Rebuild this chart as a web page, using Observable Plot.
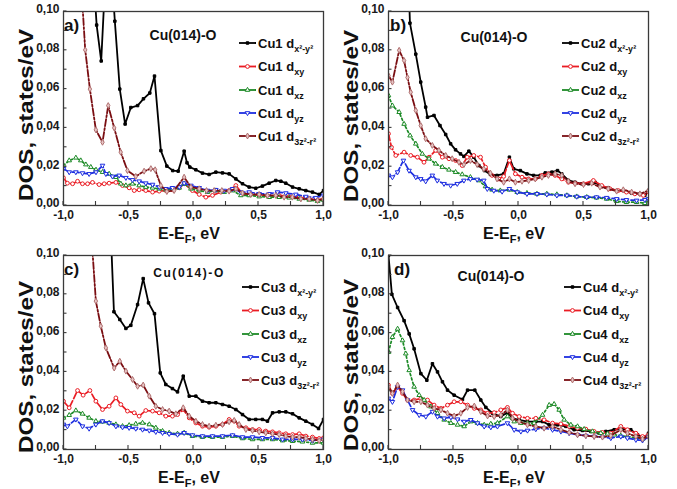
<!DOCTYPE html>
<html><head><meta charset="utf-8">
<script src="https://cdn.jsdelivr.net/npm/d3@7"></script>
<script src="https://cdn.jsdelivr.net/npm/@observablehq/plot@0.6"></script>
<style>
body{margin:0;background:#fff;}
#chart{position:relative;width:677px;height:489px;background:#fff;overflow:hidden;}
#chart svg{position:absolute;overflow:visible;}
</style></head><body><div id="chart"></div>
<script>
// ---------- DATA (energy E-EF in eV, DOS in states/eV) ----------
const xTicks = [-1, -0.5, 0, 0.5, 1];
const xMinor = [-1, -0.75, -0.5, -0.25, 0, 0.25, 0.5, 0.75, 1];
const yTicks = [0, 0.02, 0.04, 0.06, 0.08, 0.10];
const yMinor = [0, 0.01, 0.02, 0.03, 0.04, 0.05, 0.06, 0.07, 0.08, 0.09, 0.10];
const orbitalLabels = ["x²-y²", "xy", "xz", "yz", "3z²-r²"];
const panelLetters = ["a)", "b)", "c)", "d)"];
const atoms = ["Cu1", "Cu2", "Cu3", "Cu4"];
const surfaceLabel = "Cu(014)-O";

// Panel a: Cu1
const cu1_x2y2 = [[-0.78,0.13],[-0.745,0.093],[-0.71,0.0745],[-0.68,0.115],[-0.625,0.115],[-0.605,0.095],[-0.567,0.060],[-0.526,0.042],[-0.482,0.0505],[-0.43,0.0515],[-0.385,0.055],[-0.336,0.058],[-0.30,0.0667],[-0.251,0.0283],[-0.205,0.0203],[-0.16,0.018],[-0.118,0.0177],[-0.072,0.028],[-0.05,0.022],[-0.028,0.0198],[0.018,0.0184],[0.069,0.0167],[0.12,0.016],[0.172,0.0172],[0.223,0.0168],[0.274,0.0163],[0.326,0.0137],[0.377,0.0112],[0.428,0.0095],[0.479,0.0089],[0.53,0.010],[0.582,0.0115],[0.633,0.0129],[0.672,0.0125],[0.71,0.0115],[0.762,0.0095],[0.813,0.0086],[0.864,0.0077],[0.915,0.0069],[0.967,0.0057],[1.0,0.0077]];
const cu1_xy = [[-1,0.0143],[-0.97,0.0115],[-0.93,0.0112],[-0.892,0.0125],[-0.854,0.0112],[-0.815,0.0112],[-0.777,0.0119],[-0.726,0.0108],[-0.687,0.0112],[-0.649,0.0115],[-0.597,0.0119],[-0.546,0.0103],[-0.495,0.0091],[-0.456,0.0077],[-0.418,0.0081],[-0.367,0.0077],[-0.315,0.0069],[-0.264,0.0074],[-0.213,0.0077],[-0.162,0.0081],[-0.11,0.0091],[-0.072,0.0112],[-0.008,0.0077],[0.044,0.0057],[0.095,0.0043],[0.146,0.0052],[0.21,0.0069],[0.274,0.0077],[0.326,0.0103],[0.377,0.006],[0.44,0.0057],[0.505,0.0052],[0.582,0.0046],[0.659,0.0052],[0.736,0.0046],[0.813,0.0043],[0.89,0.0034],[0.954,0.0029],[1,0.0034]];
const cu1_xz = [[-1,0.0206],[-0.956,0.0232],[-0.905,0.0246],[-0.867,0.0232],[-0.828,0.0211],[-0.79,0.0198],[-0.75,0.0184],[-0.70,0.0172],[-0.649,0.0163],[-0.597,0.0146],[-0.559,0.0112],[-0.52,0.0103],[-0.469,0.0112],[-0.418,0.0103],[-0.367,0.0095],[-0.315,0.0091],[-0.264,0.0086],[-0.213,0.0081],[-0.162,0.0086],[-0.11,0.0091],[-0.072,0.0112],[-0.02,0.0086],[0.044,0.0077],[0.108,0.0069],[0.172,0.0077],[0.236,0.0069],[0.3,0.0077],[0.364,0.0052],[0.428,0.0052],[0.505,0.0046],[0.582,0.0043],[0.659,0.0043],[0.736,0.004],[0.813,0.0034],[0.89,0.0029],[0.954,0.0022],[1,0.0029]];
const cu1_yz = [[-1,0.0189],[-0.956,0.0172],[-0.905,0.0172],[-0.854,0.0167],[-0.803,0.0163],[-0.75,0.0172],[-0.70,0.0206],[-0.674,0.0163],[-0.623,0.015],[-0.572,0.0155],[-0.52,0.0143],[-0.469,0.0132],[-0.418,0.0125],[-0.367,0.0115],[-0.315,0.0108],[-0.264,0.0095],[-0.213,0.0086],[-0.162,0.0091],[-0.11,0.0095],[-0.072,0.0115],[-0.02,0.0103],[0.044,0.0091],[0.108,0.0077],[0.172,0.0081],[0.236,0.0077],[0.30,0.0086],[0.364,0.0069],[0.428,0.0069],[0.505,0.006],[0.582,0.006],[0.646,0.0069],[0.71,0.0064],[0.787,0.0057],[0.864,0.0046],[0.94,0.004],[1,0.0052]];
const cu1_3z2r2 = [[-0.86,0.11],[-0.833,0.0802],[-0.797,0.060],[-0.751,0.039],[-0.70,0.0326],[-0.656,0.0515],[-0.61,0.040],[-0.56,0.0275],[-0.508,0.018],[-0.444,0.015],[-0.38,0.0177],[-0.328,0.019],[-0.295,0.0184],[-0.251,0.0103],[-0.205,0.0072],[-0.149,0.0077],[-0.072,0.0146],[-0.02,0.0095],[0.044,0.0086],[0.10,0.0077],[0.159,0.0077],[0.218,0.0077],[0.274,0.0074],[0.326,0.0086],[0.377,0.0064],[0.44,0.0057],[0.505,0.0057],[0.569,0.0052],[0.633,0.0052],[0.697,0.0043],[0.76,0.0043],[0.826,0.0034],[0.89,0.0034],[0.954,0.0026],[1,0.0034]];

// Panel b: Cu2
const cu2_x2y2 = [[-0.848,0.12],[-0.835,0.094],[-0.79,0.078],[-0.752,0.0636],[-0.714,0.0507],[-0.70,0.0455],[-0.65,0.0464],[-0.604,0.0412],[-0.56,0.0366],[-0.522,0.0318],[-0.484,0.0287],[-0.446,0.0266],[-0.42,0.0253],[-0.382,0.028],[-0.344,0.0249],[-0.305,0.0206],[-0.262,0.018],[-0.216,0.016],[-0.165,0.0155],[-0.114,0.0163],[-0.07,0.0249],[-0.037,0.0189],[0.014,0.018],[0.065,0.0163],[0.116,0.0155],[0.167,0.0155],[0.206,0.0168],[0.257,0.0172],[0.30,0.018],[0.333,0.0163],[0.384,0.0129],[0.435,0.012],[0.487,0.0112],[0.538,0.0112],[0.589,0.012],[0.64,0.0098],[0.69,0.0091],[0.755,0.0077],[0.806,0.0077],[0.87,0.0064],[0.934,0.006],[0.972,0.0052],[1,0.0077]];
const cu2_xy = [[-1,0.037],[-0.977,0.030],[-0.944,0.0258],[-0.88,0.0275],[-0.829,0.0258],[-0.778,0.0249],[-0.727,0.0223],[-0.688,0.0249],[-0.637,0.0284],[-0.586,0.0249],[-0.535,0.0241],[-0.484,0.0232],[-0.433,0.0206],[-0.395,0.0249],[-0.344,0.0258],[-0.292,0.0249],[-0.254,0.0198],[-0.203,0.0155],[-0.152,0.0137],[-0.114,0.015],[-0.07,0.0232],[-0.024,0.0163],[0.027,0.0146],[0.078,0.0137],[0.129,0.0137],[0.18,0.0155],[0.23,0.0163],[0.282,0.0155],[0.333,0.0137],[0.384,0.012],[0.435,0.0115],[0.5,0.0112],[0.576,0.0129],[0.64,0.0103],[0.704,0.0086],[0.768,0.0077],[0.83,0.0069],[0.895,0.006],[0.96,0.0052],[1,0.0069]];
const cu2_xz = [[-1,0.0567],[-0.97,0.0515],[-0.918,0.0481],[-0.88,0.042],[-0.834,0.036],[-0.79,0.0318],[-0.74,0.0266],[-0.688,0.0241],[-0.637,0.0215],[-0.586,0.0198],[-0.535,0.0184],[-0.484,0.0172],[-0.433,0.016],[-0.37,0.0146],[-0.305,0.0129],[-0.254,0.0098],[-0.203,0.0081],[-0.14,0.0077],[-0.07,0.0081],[-0.01,0.0069],[0.065,0.0064],[0.142,0.006],[0.218,0.006],[0.295,0.0057],[0.372,0.0052],[0.448,0.0046],[0.525,0.0043],[0.60,0.004],[0.678,0.0034],[0.755,0.0022],[0.83,0.0017],[0.908,0.0017],[0.972,0.0012],[1,0.0026]];
const cu2_yz = [[-1,0.0155],[-0.97,0.0146],[-0.93,0.0172],[-0.885,0.0232],[-0.842,0.018],[-0.79,0.0146],[-0.752,0.0137],[-0.714,0.0125],[-0.663,0.0155],[-0.625,0.0129],[-0.573,0.0112],[-0.522,0.0103],[-0.471,0.0112],[-0.42,0.0129],[-0.37,0.0137],[-0.318,0.0134],[-0.267,0.0129],[-0.24,0.0086],[-0.19,0.0077],[-0.126,0.0072],[-0.07,0.0086],[-0.01,0.0069],[0.065,0.006],[0.142,0.006],[0.218,0.0057],[0.295,0.0052],[0.372,0.0052],[0.448,0.0046],[0.525,0.0043],[0.60,0.0043],[0.678,0.004],[0.755,0.0034],[0.83,0.0029],[0.908,0.0026],[0.972,0.0029],[1,0.0034]];
const cu2_3z2r2 = [[-1,0.067],[-0.97,0.0636],[-0.918,0.080],[-0.88,0.0747],[-0.854,0.066],[-0.829,0.0584],[-0.79,0.049],[-0.752,0.0412],[-0.714,0.0344],[-0.663,0.031],[-0.612,0.0284],[-0.56,0.0258],[-0.51,0.0241],[-0.458,0.0223],[-0.42,0.0211],[-0.37,0.0232],[-0.318,0.0211],[-0.267,0.0189],[-0.216,0.0167],[-0.165,0.0137],[-0.114,0.012],[-0.07,0.0137],[-0.024,0.012],[0.027,0.0125],[0.078,0.0129],[0.129,0.0137],[0.18,0.0146],[0.23,0.0155],[0.282,0.0163],[0.333,0.0155],[0.384,0.0125],[0.435,0.0112],[0.5,0.0108],[0.563,0.0115],[0.627,0.0095],[0.69,0.0086],[0.755,0.0074],[0.806,0.0081],[0.87,0.0069],[0.934,0.006],[1,0.0077]];

// Panel c: Cu3
const cu3_x2y2 = [[-0.65,0.135],[-0.612,0.071],[-0.567,0.067],[-0.52,0.0624],[-0.482,0.064],[-0.43,0.0747],[-0.387,0.0881],[-0.346,0.0756],[-0.30,0.070],[-0.256,0.0395],[-0.213,0.0335],[-0.162,0.0314],[-0.123,0.0297],[-0.079,0.0378],[-0.033,0.0275],[0.018,0.0275],[0.069,0.0249],[0.12,0.0241],[0.172,0.0241],[0.223,0.0232],[0.274,0.0223],[0.326,0.0206],[0.377,0.018],[0.428,0.0155],[0.479,0.0155],[0.53,0.0155],[0.569,0.0146],[0.608,0.0189],[0.659,0.0194],[0.71,0.0194],[0.762,0.0184],[0.813,0.0163],[0.864,0.0146],[0.915,0.0129],[0.962,0.0108],[1,0.0155]];
const cu3_xy = [[-1,0.0249],[-0.956,0.0215],[-0.892,0.0304],[-0.849,0.028],[-0.797,0.0304],[-0.751,0.0249],[-0.70,0.0206],[-0.649,0.0223],[-0.597,0.0266],[-0.559,0.0232],[-0.508,0.0198],[-0.456,0.0189],[-0.418,0.0172],[-0.367,0.0201],[-0.315,0.0198],[-0.264,0.0189],[-0.213,0.0172],[-0.162,0.0172],[-0.123,0.018],[-0.079,0.0206],[-0.033,0.0163],[0.018,0.0137],[0.069,0.012],[0.12,0.0115],[0.172,0.012],[0.223,0.0129],[0.274,0.0155],[0.313,0.0146],[0.351,0.012],[0.403,0.0112],[0.454,0.0103],[0.505,0.0103],[0.556,0.0095],[0.608,0.0091],[0.659,0.0086],[0.71,0.0081],[0.762,0.0077],[0.813,0.0081],[0.864,0.0069],[0.915,0.0064],[0.967,0.0057],[1,0.006]];
const cu3_xz = [[-1,0.0163],[-0.956,0.0177],[-0.905,0.0201],[-0.854,0.0184],[-0.803,0.0163],[-0.751,0.0146],[-0.70,0.0143],[-0.649,0.0137],[-0.597,0.0129],[-0.546,0.012],[-0.495,0.0125],[-0.444,0.0132],[-0.392,0.0137],[-0.34,0.0129],[-0.29,0.0112],[-0.238,0.0095],[-0.187,0.0086],[-0.123,0.0081],[-0.072,0.0086],[-0.008,0.0069],[0.069,0.0064],[0.146,0.0064],[0.223,0.0064],[0.30,0.0069],[0.377,0.0057],[0.454,0.0052],[0.53,0.0052],[0.608,0.0052],[0.685,0.0046],[0.762,0.0043],[0.838,0.004],[0.915,0.0034],[1,0.0034]];
const cu3_yz = [[-1,0.0129],[-0.97,0.012],[-0.905,0.0155],[-0.854,0.012],[-0.803,0.0108],[-0.751,0.0129],[-0.70,0.0146],[-0.649,0.0137],[-0.597,0.012],[-0.546,0.0115],[-0.495,0.0112],[-0.444,0.0108],[-0.392,0.0103],[-0.34,0.0098],[-0.29,0.0091],[-0.238,0.0086],[-0.187,0.0081],[-0.123,0.0077],[-0.072,0.0086],[-0.008,0.0074],[0.069,0.0069],[0.146,0.0069],[0.223,0.0069],[0.30,0.0074],[0.377,0.0064],[0.454,0.0064],[0.53,0.006],[0.608,0.006],[0.685,0.0052],[0.762,0.0052],[0.838,0.0052],[0.915,0.0046],[1,0.0052]];
const cu3_3z2r2 = [[-0.785,0.11],[-0.751,0.0765],[-0.713,0.0636],[-0.674,0.0524],[-0.61,0.042],[-0.567,0.0455],[-0.52,0.0404],[-0.469,0.0361],[-0.43,0.0326],[-0.387,0.0332],[-0.34,0.0275],[-0.29,0.0223],[-0.238,0.0206],[-0.187,0.0198],[-0.136,0.0184],[-0.079,0.0215],[-0.033,0.0172],[0.018,0.0146],[0.069,0.0129],[0.12,0.012],[0.172,0.0125],[0.223,0.0129],[0.274,0.0143],[0.313,0.015],[0.351,0.0129],[0.403,0.0103],[0.454,0.0098],[0.505,0.0091],[0.556,0.0086],[0.608,0.0081],[0.659,0.0077],[0.71,0.0069],[0.762,0.0064],[0.813,0.0064],[0.864,0.0057],[0.915,0.0052],[0.967,0.0046],[1,0.0052]];

// Panel d: Cu4
const cu4_x2y2 = [[-1,0.10],[-0.974,0.080],[-0.93,0.0732],[-0.88,0.0664],[-0.841,0.0596],[-0.803,0.0519],[-0.751,0.0391],[-0.705,0.0357],[-0.662,0.0442],[-0.623,0.040],[-0.585,0.0349],[-0.546,0.0306],[-0.495,0.028],[-0.431,0.0258],[-0.392,0.0306],[-0.336,0.0306],[-0.29,0.0255],[-0.251,0.0217],[-0.20,0.0187],[-0.136,0.017],[-0.085,0.019],[-0.046,0.0161],[0.005,0.0153],[0.069,0.0144],[0.133,0.0144],[0.185,0.0144],[0.236,0.0127],[0.30,0.0127],[0.364,0.0119],[0.428,0.0102],[0.492,0.0098],[0.556,0.0093],[0.62,0.0084],[0.672,0.0093],[0.736,0.0102],[0.80,0.0105],[0.864,0.0102],[0.915,0.0076],[0.967,0.0059],[1,0.0084]];
const cu4_xy = [[-1,0.0332],[-0.97,0.0289],[-0.93,0.0323],[-0.892,0.0289],[-0.854,0.0255],[-0.803,0.0255],[-0.751,0.0263],[-0.70,0.0255],[-0.649,0.0229],[-0.597,0.0212],[-0.546,0.0229],[-0.495,0.0246],[-0.444,0.0246],[-0.392,0.0229],[-0.34,0.0212],[-0.29,0.0204],[-0.238,0.0187],[-0.187,0.019],[-0.136,0.0204],[-0.085,0.0217],[-0.046,0.0187],[0.005,0.017],[0.069,0.0161],[0.133,0.0161],[0.197,0.0153],[0.262,0.0136],[0.326,0.0132],[0.39,0.0119],[0.454,0.011],[0.518,0.0105],[0.582,0.0093],[0.646,0.0088],[0.71,0.0084],[0.787,0.0119],[0.838,0.0102],[0.903,0.0084],[0.954,0.0067],[1,0.0076]];
const cu4_xz = [[-1,0.0502],[-0.97,0.0579],[-0.93,0.0622],[-0.892,0.0562],[-0.867,0.0494],[-0.841,0.0408],[-0.803,0.0323],[-0.764,0.028],[-0.726,0.0255],[-0.674,0.0221],[-0.623,0.0187],[-0.572,0.0153],[-0.52,0.0136],[-0.469,0.0127],[-0.418,0.0119],[-0.367,0.0144],[-0.315,0.0136],[-0.264,0.0127],[-0.213,0.0132],[-0.162,0.0136],[-0.085,0.017],[-0.033,0.0144],[0.018,0.0136],[0.069,0.0136],[0.12,0.0136],[0.185,0.0178],[0.236,0.0229],[0.274,0.0234],[0.313,0.0204],[0.351,0.0153],[0.403,0.0127],[0.454,0.0119],[0.505,0.0105],[0.569,0.0093],[0.633,0.0084],[0.685,0.0081],[0.736,0.0076],[0.787,0.0071],[0.838,0.0067],[0.903,0.0059],[0.954,0.0054],[1,0.0067]];
const cu4_yz = [[-1,0.0263],[-0.97,0.0246],[-0.93,0.0323],[-0.892,0.0306],[-0.854,0.0255],[-0.815,0.0204],[-0.764,0.0178],[-0.713,0.017],[-0.662,0.0195],[-0.623,0.017],[-0.572,0.0161],[-0.52,0.0166],[-0.469,0.0156],[-0.418,0.0144],[-0.367,0.0153],[-0.315,0.0136],[-0.264,0.0119],[-0.213,0.0115],[-0.162,0.0119],[-0.085,0.0136],[-0.033,0.0102],[0.018,0.0093],[0.069,0.0098],[0.133,0.0105],[0.197,0.011],[0.262,0.0102],[0.326,0.0093],[0.39,0.0084],[0.454,0.0076],[0.518,0.0071],[0.582,0.0067],[0.646,0.0064],[0.71,0.0059],[0.787,0.0067],[0.838,0.0059],[0.903,0.005],[0.954,0.0047],[1,0.0064]];
const cu4_3z2r2 = [[-1,0.0323],[-0.97,0.0289],[-0.93,0.0332],[-0.892,0.0298],[-0.854,0.0255],[-0.803,0.0246],[-0.751,0.0246],[-0.70,0.0229],[-0.649,0.0212],[-0.597,0.0204],[-0.546,0.0187],[-0.495,0.0173],[-0.444,0.0187],[-0.392,0.0217],[-0.34,0.0224],[-0.29,0.0195],[-0.238,0.0173],[-0.187,0.017],[-0.136,0.0178],[-0.085,0.0204],[-0.046,0.0161],[0.005,0.0144],[0.069,0.0127],[0.133,0.0119],[0.197,0.011],[0.262,0.0119],[0.326,0.0102],[0.39,0.0088],[0.454,0.0076],[0.518,0.0071],[0.582,0.0067],[0.646,0.0064],[0.71,0.0071],[0.787,0.0102],[0.838,0.0084],[0.903,0.0067],[0.954,0.0054],[1,0.0067]];

// ---------- STYLE / LAYOUT ----------
const FONT = "'Liberation Sans', Arial, Helvetica, sans-serif";
const sqrt3 = Math.sqrt(3);
const triangleDown = {
  draw(ctx, size) {
    const y = -Math.sqrt(size / (sqrt3 * 3));
    ctx.moveTo(0, -y * 2);
    ctx.lineTo(-sqrt3 * y, y);
    ctx.lineTo(sqrt3 * y, y);
    ctx.closePath();
  }
};
const styles = [
  {color: "#000000", dash: null,      symbol: d3.symbolSquare,   fill: "#000000", mstroke: "#000000", r: 1.4, lw: 1.8},
  {color: "#ea1c24", dash: "7,2.5",   symbol: d3.symbolCircle,   fill: "#ffffff", mstroke: "#ea1c24", r: 1.9, lw: 1.7},
  {color: "#1c8a26", dash: "2,2.5",   symbol: d3.symbolTriangle, fill: "#ffffff", mstroke: "#1c8a26", r: 1.7, lw: 1.7},
  {color: "#1e2ee0", dash: "7,2.5",   symbol: triangleDown,      fill: "#ffffff", mstroke: "#1e2ee0", r: 1.7, lw: 1.7},
  {color: "#7a0e12", dash: "7,2,2,2", symbol: d3.symbolDiamond,  fill: "#e6c4c4", mstroke: "#b07070", r: 1.8, lw: 1.8}
];
const panels = [
  {series: [cu1_x2y2, cu1_xy, cu1_xz, cu1_yz, cu1_3z2r2], left: 0,   top: 0,   titleX: 120, titleY: 29, titleSize: 14, titleSpacing: 0, letX: 1, legX: 176, yTitleC: 104},
  {series: [cu2_x2y2, cu2_xy, cu2_xz, cu2_yz, cu2_3z2r2], left: 325, top: 0,   titleX: 106, titleY: 31, titleSize: 14, titleSpacing: 0, letX: 2, legX: 174, yTitleC: 105},
  {series: [cu3_x2y2, cu3_xy, cu3_xz, cu3_yz, cu3_3z2r2], left: 0,   top: 244, titleX: 126, titleY: 22, titleSize: 12, titleSpacing: 1.6, letX: 1, legX: 179, yTitleC: 112},
  {series: [cu4_x2y2, cu4_xy, cu4_xz, cu4_yz, cu4_3z2r2], left: 325, top: 244, titleX: 103, titleY: 26, titleSize: 14, titleSpacing: 0, letX: 6, legX: 176, yTitleC: 110}
];
const M = {left: 63, right: 17, top: 11, bottom: 39};
const W = 340, H = 244;
const legendRows = [32, 55.5, 79, 102, 125];
const fmtY = d => d.toFixed(2).replace(".", ",");
const fmtX = d => d.toFixed(1).replace(".", ",");

const chart = document.getElementById("chart");

panels.forEach((p, pi) => {
  const marks = [];
  p.series.forEach((data, i) => {
    const s = styles[i];
    marks.push(Plot.line(data, {x: d => d[0], y: d => d[1], stroke: s.color, strokeWidth: s.lw, strokeDasharray: s.dash, clip: true}));
    marks.push(Plot.dot(data, {x: d => d[0], y: d => d[1], symbol: s.symbol, r: s.r, stroke: s.mstroke, fill: s.fill, strokeWidth: 1, clip: true}));
  });
  marks.push(Plot.frame({stroke: "#3a3a3a", strokeWidth: 1.3}));
  marks.push(Plot.axisY(yTicks, {anchor: "left", tickSize: 0, tickPadding: 4, dy: -2, tickFormat: fmtY, label: null, fontSize: 12}));
  marks.push(Plot.axisX(xTicks, {anchor: "bottom", tickSize: 0, tickPadding: 5, tickFormat: fmtX, label: null, fontSize: 12}));

  const svg = Plot.plot({
    width: W, height: H,
    marginLeft: M.left, marginRight: M.right, marginTop: M.top, marginBottom: M.bottom,
    x: {domain: [-1, 1]},
    y: {domain: [0, 0.1]},
    style: {fontFamily: FONT, fontSize: "12px", fontWeight: "bold", color: "#1a1a1a", background: "transparent", overflow: "visible"},
    marks
  });
  svg.style.left = p.left + "px";
  svg.style.top = p.top + "px";
  chart.appendChild(svg);

  const xs = svg.scale("x"), ys = svg.scale("y");
  const fx = M.left, fy = M.top, fb = H - M.bottom;

  // inward ticks (Origin style) placed from the Plot scales
  const tg = d3.select(svg).append("g").attr("stroke", "#3a3a3a").attr("stroke-width", 1.1);
  yMinor.forEach(v => {
    const y = ys.apply(v);
    tg.append("line").attr("x1", fx).attr("x2", fx + 3.5).attr("y1", y).attr("y2", y);
  });
  xMinor.forEach(v => {
    const x = xs.apply(v);
    tg.append("line").attr("x1", x).attr("x2", x).attr("y1", fb).attr("y2", fb - 4);
  });

  const g = d3.select(svg).append("g").attr("font-family", FONT).attr("font-weight", "bold").attr("fill", "#111").attr("text-anchor", "start");

  // panel letter
  g.append("text").attr("x", fx + p.letX).attr("y", fy + 20).attr("font-size", 17).text(panelLetters[pi]);
  // surface label
  g.append("text").attr("x", fx + p.titleX).attr("y", fy + p.titleY).attr("font-size", p.titleSize)
    .attr("letter-spacing", p.titleSpacing).attr("text-anchor", "middle").text(surfaceLabel);

  // legend
  legendRows.forEach((ry, i) => {
    const s = styles[i];
    const y = fy + ry;
    const x0 = fx + p.legX;
    g.append("line").attr("x1", x0).attr("x2", x0 + 17).attr("y1", y).attr("y2", y)
      .attr("stroke", s.color).attr("stroke-width", 1.8);
    g.append("path").attr("d", d3.symbol(s.symbol, Math.PI * s.r * s.r)())
      .attr("transform", `translate(${x0 + 8.5},${y})`)
      .attr("fill", s.fill).attr("stroke", s.mstroke).attr("stroke-width", 1);
    const t = g.append("text").attr("x", x0 + 19).attr("y", y + 4.5).attr("font-size", 13).text(`${atoms[pi]} d`);
    t.append("tspan").attr("dy", 4).attr("font-size", 9).text(orbitalLabels[i]);
  });

  // x axis title
  const xt = g.append("text").attr("x", fx + 126).attr("y", fb + 33.5).attr("font-size", 16).attr("text-anchor", "middle").text("E-E");
  xt.append("tspan").attr("dy", 4).attr("font-size", 11).text("F");
  xt.append("tspan").attr("dy", -4).text(", eV");

  // y axis title
  g.append("text").attr("transform", `translate(${fx - 30},${fy + p.yTitleC}) rotate(-90)`)
    .attr("font-size", 21).attr("text-anchor", "middle")
    .attr("textLength", 172).attr("lengthAdjust", "spacingAndGlyphs")
    .text("DOS, states/eV");
});
</script>
</body></html>
